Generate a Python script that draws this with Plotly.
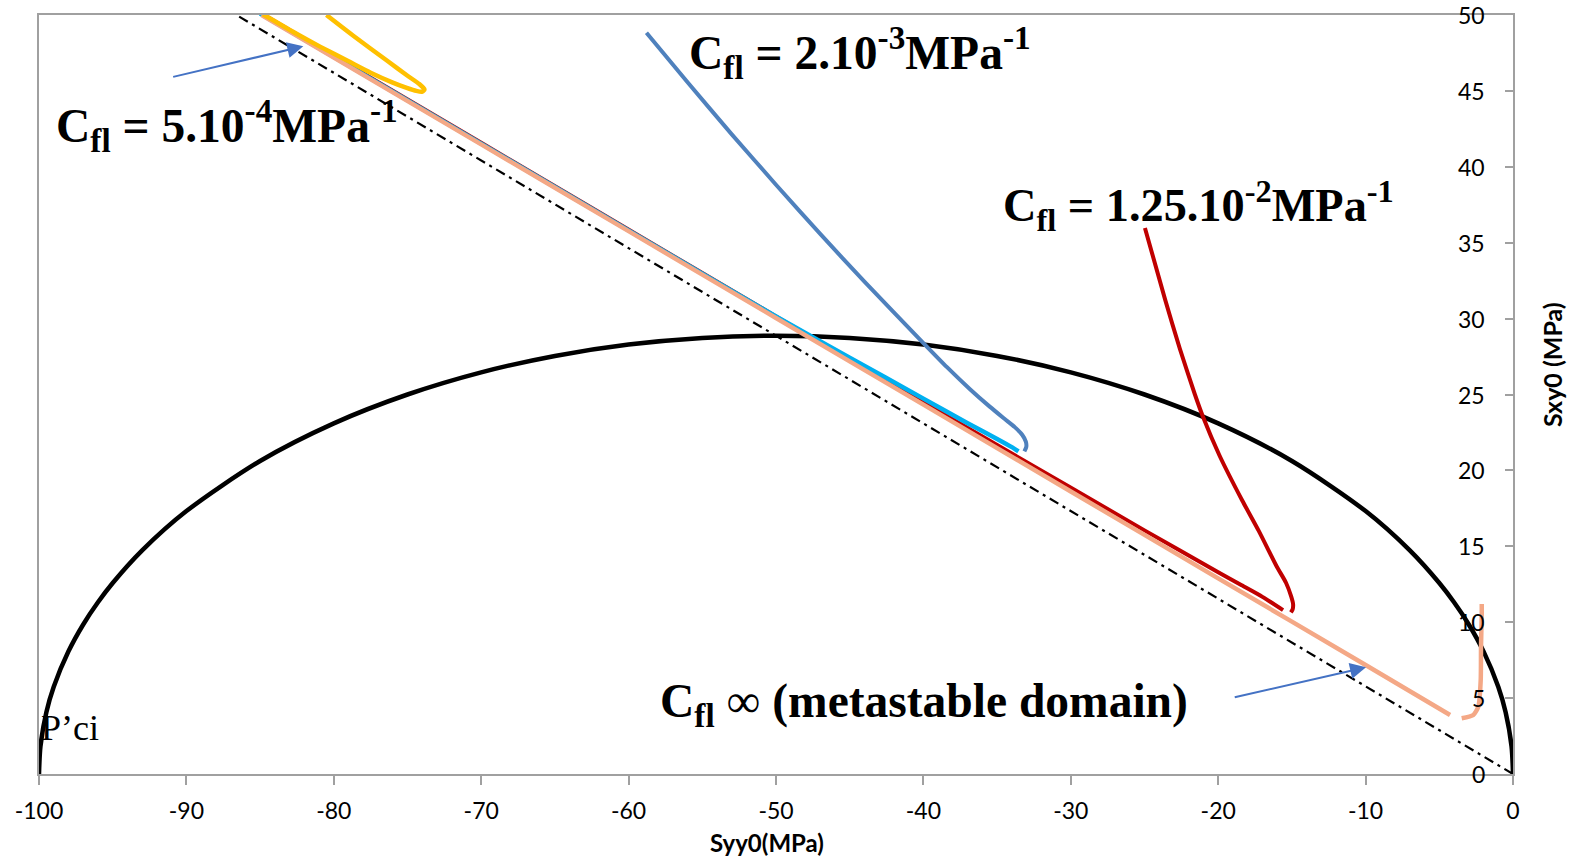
import plotly.graph_objects as go

# ---------------- data ----------------
# yield cap (ellipse) Syy0 / Sxy0
cap_x = [-100, -99.9, -99.5, -99, -98, -97, -96, -95, -93, -90, -85, -80, -75, -70, -65, -60, -55,
         -50, -45, -40, -35, -30, -25, -20, -15, -10, -7, -5, -4, -3, -2, -1, -0.5, -0.1, 0]
cap_y = [0, 1.83, 4.07, 5.75, 8.08, 9.85, 11.31, 12.58, 14.73, 17.32, 20.62, 23.10, 25.00, 26.46, 27.54, 28.29, 28.73,
         28.87, 28.73, 28.29, 27.54, 26.46, 25.00, 23.10, 20.62, 17.32, 14.73, 12.58, 11.31, 9.85, 8.08, 5.75, 4.07, 1.83, 0]

# critical-state line (dash-dot)
csl_x = [0, -86.6]
csl_y = [0, 50]

# Cfl infinite (metastable domain)  -- salmon
inf_x = [-84.9, -70, -60, -50, -40, -30, -20, -10, -4.27, None,
         -3.48, -2.69, -2.35, -2.19, -2.17, -2.12, -2.12]
inf_y = [50.0, 41.48, 35.76, 30.04, 24.33, 18.61, 12.89, 7.18, 3.89, None,
         3.67, 3.89, 4.44, 6.2, 8.39, 10.6, 11.2]

# Cfl = 1.25e-2 (red)
red_x = [-85, -70, -55, -45, -35, -25, -20, -18.5, -17, -15.6, None,
         -15.07, -14.95, -14.92, -15.05, -15.4, -16.03, -17.24, -18.36, -19.92, -21.04, -21.58, -22.6, -23.6, -24.97]
red_y = [50.15, 41.58, 33.0, 27.3, 21.67, 16.05, 13.29, 12.48, 11.67, 10.8, None,
         10.65, 10.85, 11.2, 11.7, 12.6, 13.67, 16.0, 18.0, 21.0, 23.55, 25.0, 28.0, 31.25, 35.97]

# Cfl = 2e-3, lower branch (cyan)
cyan_x = [-85, -70, -60, -50, -45, -40, -37, -35, -34, -33.55]
cyan_y = [50.1, 41.53, 35.81, 30.14, 27.43, 24.73, 23.11, 22.07, 21.53, 21.25]

# Cfl = 2e-3, upper branch (steel blue)
blue_x = [-33.15, -33.02, -33.05, -33.3, -33.8, -34.5, -35.5, -36.84, -38.4, -40.0, -44.0, -47.0, -50.0, -53.0, -56.0, -58.79]
blue_y = [21.25, 21.55, 21.9, 22.35, 22.85, 23.4, 24.2, 25.35, 26.8, 28.39, 32.43, 35.58, 38.82, 42.14, 45.57, 48.83]

# Cfl = 5e-4 (yellow loop)
yel_x = [-84.8, -82.5, -80.9, -79.0, -77.5, -76.0, -75.05, -74.4, -74.0, -73.85, -74.2, -75.0, -76.4, -78.7, -80.5]
yel_y = [50.05, 48.75, 47.9, 46.95, 46.2, 45.55, 45.2, 45.0, 44.95, 45.1, 45.45, 46.0, 47.0, 48.65, 50.0]

x_ticks = [-100, -90, -80, -70, -60, -50, -40, -30, -20, -10, 0]
x_tick_text = ["-100", "-90", "-80", "-70", "-60", "-50", "-40", "-30", "-20", "-10", "0"]
y_ticks = [0, 5, 10, 15, 20, 25, 30, 35, 40, 45, 50]
y_tick_text = ["0", "5", "10", "15", "20", "25", "30", "35", "40", "45", "50"]

# ---------------- figure ----------------
fig = go.Figure()

fig.add_trace(go.Scatter(x=cap_x, y=cap_y, mode="lines",
                         line=dict(color="#000000", width=4.5, shape="spline", smoothing=0.8)))
fig.add_trace(go.Scatter(x=csl_x, y=csl_y, mode="lines",
                         line=dict(color="#000000", width=2.2, dash="10px,5px,3px,5px")))
fig.add_trace(go.Scatter(x=red_x, y=red_y, mode="lines", connectgaps=False,
                         line=dict(color="#C00000", width=4, shape="spline", smoothing=0.6)))
fig.add_trace(go.Scatter(x=cyan_x, y=cyan_y, mode="lines",
                         line=dict(color="#00B0F0", width=4.5, shape="spline", smoothing=0.6)))
fig.add_trace(go.Scatter(x=inf_x, y=inf_y, mode="lines", connectgaps=False,
                         line=dict(color="#F4A886", width=4.5, shape="spline", smoothing=0.6)))
fig.add_trace(go.Scatter(x=blue_x, y=blue_y, mode="lines",
                         line=dict(color="#4F81BD", width=4, shape="spline", smoothing=0.6)))
fig.add_trace(go.Scatter(x=yel_x, y=yel_y, mode="lines",
                         line=dict(color="#FFC000", width=4.5, shape="spline", smoothing=0.6)))

serif = "Liberation Serif, Times New Roman, serif"

annotations = [
    dict(x=-99.0, y=42.75, size=47.5, text="<b>C<sub>fl</sub> = 5.10<sup>-4</sup>MPa<sup>-1</sup></b>"),
    dict(x=-56.04, y=47.55, size=47.5, text="<b>C<sub>fl</sub> = 2.10<sup>-3</sup>MPa<sup>-1</sup></b>"),
    dict(x=-34.75, y=37.45, size=46.3, text="<b>C<sub>fl</sub> = 1.25.10<sup>-2</sup>MPa<sup>-1</sup></b>"),
    dict(x=-58.0, y=4.6, size=47.5, text="<b>C<sub>fl</sub></b> ∞ <b>(metastable domain)</b>"),
]
for a in annotations:
    fig.add_annotation(x=a["x"], y=a["y"], xref="x", yref="y", text=a["text"],
                       showarrow=False, xanchor="left", yanchor="middle",
                       font=dict(family=serif, size=a["size"], color="#000000"))

fig.add_annotation(x=-99.97, y=3.0, xref="x", yref="y", text="P’ci", showarrow=False,
                   xanchor="left", yanchor="middle",
                   font=dict(family=serif, size=36, color="#000000"))

# blue arrows
for tip, tail in [((-82.07, 47.94), (-91.0, 45.9)), ((-9.97, 7.03), (-18.98, 5.03))]:
    fig.add_annotation(x=tip[0], y=tip[1], ax=tail[0], ay=tail[1], xref="x", yref="y",
                       axref="x", ayref="y", text="", showarrow=True, arrowhead=2,
                       arrowsize=1.6, arrowwidth=2, arrowcolor="#4472C4")

axis_font = dict(family="Lato, Open Sans, sans-serif", size=23, color="#000000")

# y tick labels: drawn inside the plot, right-aligned next to the right-hand axis
for v, t in zip(y_ticks, y_tick_text):
    fig.add_annotation(x=-1.76, y=v, xref="x", yref="y", text=t, showarrow=False,
                       xanchor="right", yanchor="middle", font=axis_font)

# axis titles
fig.add_annotation(x=(767 - 39) / 1474, y=-(843 - 774) / 759, xref="paper", yref="paper",
                   text="<b>Syy0(MPa)</b>", showarrow=False, xanchor="center", yanchor="middle",
                   font=dict(family="Lato, Open Sans, sans-serif", size=24, color="#000000"))
fig.add_annotation(x=(1552 - 39) / 1474, y=(774 - 365) / 759, xref="paper", yref="paper",
                   text="<b>Sxy0 (MPa)</b>", showarrow=False, xanchor="center", yanchor="middle",
                   textangle=-90,
                   font=dict(family="Lato, Open Sans, sans-serif", size=25, color="#000000"))

fig.update_layout(
    width=1577, height=857,
    margin=dict(l=39, r=64, t=15, b=83),
    paper_bgcolor="white", plot_bgcolor="white",
    showlegend=False,
    xaxis=dict(range=[-100, 0], tickvals=x_ticks, ticktext=x_tick_text,
               ticks="outside", ticklen=9, tickwidth=1.5, tickcolor="#A0A0A0",
               showline=True, linecolor="#A0A0A0", linewidth=2, mirror=True,
               showgrid=False, zeroline=False, tickfont=axis_font, ticklabelstandoff=6),
    yaxis=dict(range=[0, 50], tickvals=y_ticks, side="right",
               ticks="inside", ticklen=8, tickwidth=1.5, tickcolor="#A0A0A0",
               showticklabels=False, showline=True, linecolor="#A0A0A0",
               linewidth=2, mirror=True, showgrid=False, zeroline=False),
)

fig.write_html("out.html")
